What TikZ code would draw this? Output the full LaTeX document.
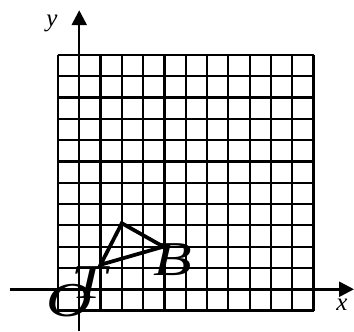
\documentclass[tikz,border=0pt]{standalone}
\usepackage{fontspec}
\setmainfont{Liberation Serif}
\usetikzlibrary{arrows.meta}

\begin{document}
\begin{tikzpicture}[x=0.6cm,y=0.6cm,
  gridline/.style={line width=1.8pt},
  axis/.style={line width=2pt,-{Triangle[length=12pt,width=12pt]}},
  side/.style={line width=3pt,line join=miter},
  axlabel/.style={font=\fontsize{20}{20}\selectfont\itshape,inner sep=0pt},
  biglabel/.style={font=\fontsize{39}{39}\selectfont\itshape,inner sep=0pt,xscale=1.3}
]
\useasboundingbox (-3.72,-1.96) rectangle (12.9,13.58);
% grid
\draw[gridline,step=0.6cm] (-1,-1) grid (11,11);
% axes
\coordinate (xstart) at (-3.25,0);
\coordinate (xend) at (12.9,0);
\coordinate (ystart) at (0,-1.96);
\coordinate (yend) at (0,13.1);
\draw[axis] (xstart) -- (xend);
\draw[axis] (ystart) -- (yend);
\node[axlabel] (xlab) at (12.33,-0.74) {x};
\node[axlabel] (ylab) at (-1.28,12.5) {y};
% triangle
\coordinate (apex) at (2.0,3.1);
\coordinate (vb) at (3.95,2.0);
\coordinate (vc) at (1.0,1.15);
\draw[side] (vc) -- (apex) -- (vb) -- cycle;
\node[biglabel] (lo) at (-0.46,-0.52) {O};
\node[biglabel] (lt) at (0.45,0.3) {T};
\node[biglabel] (lb) at (4.38,1.38) {B};
\end{tikzpicture}
\end{document}
